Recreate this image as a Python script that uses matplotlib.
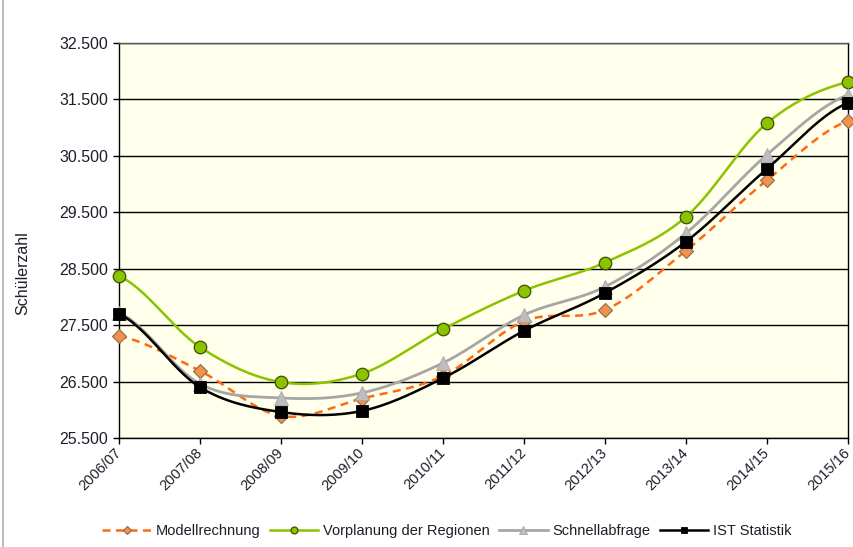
import numpy as np
import matplotlib
matplotlib.use("Agg")
import matplotlib.pyplot as plt
from matplotlib.lines import Line2D
from matplotlib.ticker import FixedLocator, FuncFormatter

plt.rcParams['font.family'] = ['Liberation Sans', 'DejaVu Sans']

categories = ["2006/07", "2007/08", "2008/09", "2009/10", "2010/11",
              "2011/12", "2012/13", "2013/14", "2014/15", "2015/16"]
modellrechnung = [27310, 26690, 25890, 26200, 26600, 27570, 27770, 28820, 30070, 31120]
vorplanung = [28370, 27110, 26490, 26640, 27430, 28110, 28610, 29420, 31080, 31810]
schnellabfrage = [27720, 26460, 26210, 26300, 26830, 27680, 28180, 29130, 30520, 31580]
ist_statistik = [27700, 26400, 25960, 25980, 26560, 27400, 28070, 28980, 30270, 31440]
y_ticks = [25500, 26500, 27500, 28500, 29500, 30500, 31500, 32500]

TEXT = '#1e1e2a'


def smooth(x, y, n=30):
    """Catmull-Rom smoothing (like spreadsheet 'smoothed line')."""
    x = np.asarray(x, float)
    y = np.asarray(y, float)
    px = np.concatenate([[2 * x[0] - x[1]], x, [2 * x[-1] - x[-2]]])
    py = np.concatenate([[y[0]], y, [y[-1]]])
    xs, ys = [], []
    for i in range(1, len(px) - 2):
        t = np.linspace(0, 1, n, endpoint=(i == len(px) - 3))
        for P, out in ((px, xs), (py, ys)):
            p0, p1, p2, p3 = P[i - 1], P[i], P[i + 1], P[i + 2]
            m1 = (p2 - p0) / 2
            m2 = (p3 - p1) / 2
            h00 = 2 * t**3 - 3 * t**2 + 1
            h10 = t**3 - 2 * t**2 + t
            h01 = -2 * t**3 + 3 * t**2
            h11 = t**3 - t**2
            out.extend(h00 * p1 + h10 * m1 + h01 * p2 + h11 * m2)
    return np.array(xs), np.array(ys)


fig = plt.figure(figsize=(8.54, 5.47), dpi=100)
ax = fig.add_axes([119 / 854, 1 - 438 / 547, (848 - 119) / 854, (438 - 43) / 547])
ax.set_facecolor('#FFFFEB')

xpos = np.arange(len(categories))

series = [
    ("Modellrechnung", modellrechnung, dict(color='#FF6A10', ls=(0, (3.2, 2.2)), lw=1.8),
     dict(marker='D', ms=7, mfc='#F0914E', mec='#8C6A50', mew=0.8)),
    ("Vorplanung der Regionen", vorplanung, dict(color='#8CC300', ls='-', lw=1.8),
     dict(marker='o', ms=9, mfc='#8CC300', mec='#3C5000', mew=0.9)),
    ("Schnellabfrage", schnellabfrage, dict(color='#A6A6A6', ls='-', lw=2.0),
     dict(marker='^', ms=9.5, mfc='#BDBDBD', mec='#A6A6A6', mew=0.6)),
    ("IST Statistik", ist_statistik, dict(color='#000000', ls='-', lw=1.8),
     dict(marker='s', ms=8.5, mfc='#000000', mec='#000000', mew=0.6)),
]

handles = []
for z, (name, vals, lstyle, mstyle) in enumerate(series):
    sx, sy = smooth(xpos, vals)
    ax.plot(sx, sy, zorder=3 + z, solid_capstyle='butt', dash_capstyle='butt', **lstyle)
    ax.plot(xpos, vals, ls='none', zorder=3 + z, clip_on=False, **mstyle)
    hm = dict(mstyle)
    hm['ms'] = hm['ms'] * 0.55
    handles.append(Line2D([], [], label=name, **lstyle, **hm))

ax.set_xlim(0, len(categories) - 1)
ax.set_ylim(25500, 32500)
ax.yaxis.set_major_locator(FixedLocator(y_ticks))
ax.yaxis.set_major_formatter(FuncFormatter(lambda v, p: f"{int(v):,}".replace(",", ".")))
ax.grid(axis='y', color='#000000', lw=1.0, zorder=1)
ax.set_axisbelow(True)

ax.set_xticks(xpos)
ax.set_xticklabels(categories, rotation=45, ha='right', va='center',
                   rotation_mode='anchor', fontsize=10.5, color=TEXT)
ax.tick_params(axis='x', length=4, width=1, direction='out', pad=5)
ax.tick_params(axis='y', length=4, width=1, direction='out', pad=4, labelsize=11.5,
               labelcolor=TEXT)

for s in ['left', 'bottom', 'right', 'top']:
    ax.spines[s].set_color('#000000')
    ax.spines[s].set_linewidth(1.0)
ax.spines['top'].set_color('#555555')

ax.set_ylabel("Schülerzahl", fontsize=11.5, color=TEXT)
ax.yaxis.set_label_coords(-0.122, 0.418)

fig.legend(handles=handles, loc='center', bbox_to_anchor=(447 / 854, 1 - 531 / 547),
           ncol=4, frameon=False, fontsize=10.5, handlelength=3.3, handletextpad=0.33,
           columnspacing=0.67, labelcolor=TEXT)

fig.add_artist(Line2D([3 / 854, 3 / 854], [0, 1], color='#B0B0B0', lw=1.2,
                      transform=fig.transFigure))

fig.savefig("out.png", dpi=100, facecolor='white')
